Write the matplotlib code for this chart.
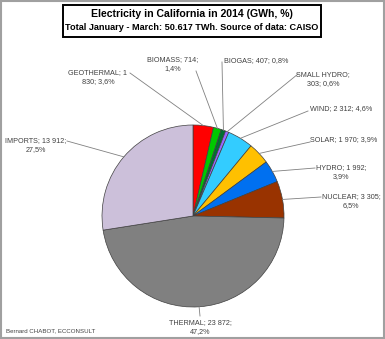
import matplotlib
matplotlib.use("Agg")
import matplotlib.pyplot as plt
import numpy as np

# Data (GWh, Jan-Mar 2014)
names = ['GEOTHERMAL', 'BIOMASS', 'BIOGAS', 'SMALL HYDRO', 'WIND', 'SOLAR',
         'HYDRO', 'NUCLEAR', 'THERMAL', 'IMPORTS']
values = [1830, 714, 407, 303, 2312, 1970, 1992, 3305, 23872, 13912]
colors = ['#FF0000', '#00C800', '#007030', '#9966FF', '#33CCFF', '#FFC000',
          '#0070F0', '#993300', '#808080', '#CCC0DA']
# which space the label line breaks at (0 = no break)
breaks = [2, 2, 0, 2, 0, 0, 3, 3, 3, 3]

# label layout in pixel coords: text centre x, y, leader anchor
lab_pos = [(98, 77, (130, 73)),
           (173, 64, (196, 71)),
           (256, 61, (222, 62)),
           (323, 79, (298, 74)),
           (341, 109, (308, 111)),
           (344, 140, (310, 142)),
           (341, 172, (315, 168)),
           (351, 201, (321, 197)),
           (200, 327, (200, 316)),
           (36, 145, (67, 141))]

W, H = 385, 339
fig = plt.figure(figsize=(W / 100, H / 100), dpi=100)
ax = fig.add_axes([0, 0, 1, 1])

plt.rcParams['font.family'] = ['Liberation Sans', 'DejaVu Sans']

cx, cy, r = 193, H - 216, 91
ax.pie(values, colors=colors, startangle=90, counterclock=False,
       center=(cx, cy), radius=r, frame=True,
       wedgeprops=dict(edgecolor='#404040', linewidth=0.5))
ax.set_xlim(0, W)
ax.set_ylim(0, H)
ax.set_aspect('equal')
ax.axis('off')

total = sum(values)
cum = 0
for i, (n, v) in enumerate(zip(names, values)):
    pct = v / total * 100
    vs = f"{v:,}".replace(',', ' ')
    s = f"{n}; {vs}; {pct:.1f}%".replace('.', ',')
    if breaks[i]:
        parts = s.split(' ')
        k = breaks[i]
        s = ' '.join(parts[:k]) + '\n' + ' '.join(parts[k:])
    mid = (cum + v / 2) / total * 2 * np.pi
    cum += v
    ex = cx + r * np.sin(mid)
    ey = cy + r * np.cos(mid)
    tx, ty, (axp, ayp) = lab_pos[i]
    ax.text(tx, H - ty, s, ha='center', va='center', fontsize=5.2,
            color='#404040', linespacing=1.3)
    ax.plot([axp, ex], [H - ayp, ey], color='#808080', lw=0.6)

# title box
ax.add_patch(plt.Rectangle((63, H - 37), 258, 32, fill=True, fc='white',
                           ec='black', lw=1.4))
ax.text(192, H - 14, 'Electricity in California in 2014 (GWh, %)',
        ha='center', va='center', fontsize=7.6, fontweight='bold')
ax.text(192, H - 28, 'Total January - March: 50.617 TWh. Source of data: CAISO',
        ha='center', va='center', fontsize=6.6, fontweight='bold')

ax.text(6, H - 331, 'Bernard CHABOT, ECCONSULT', fontsize=4.4,
        color='#404040', va='center')

fig.patches.append(plt.Rectangle((0.002, 0.002), 0.996, 0.996,
                                 transform=fig.transFigure, fill=False,
                                 ec='#A0A0A0', lw=1.5))

fig.savefig('out.png', dpi=100, facecolor='white')
